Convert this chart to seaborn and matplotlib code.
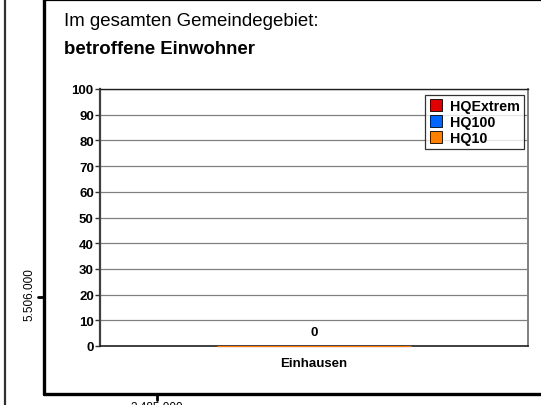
import matplotlib
matplotlib.use("Agg")
import matplotlib.pyplot as plt
from matplotlib.lines import Line2D
import seaborn as sns
import pandas as pd

categories = ["Einhausen"]
series = ["HQExtrem", "HQ100", "HQ10"]
hq_extrem = [0]
hq100 = [0]
hq10 = [0]
colors = ["#E00000", "#0066FF", "#FF8000"]
y_ticks = [0, 10, 20, 30, 40, 50, 60, 70, 80, 90, 100]

sns.set_theme(style="white")
plt.rcParams["font.family"] = ["Liberation Sans", "DejaVu Sans"]
plt.rcParams["text.color"] = "black"
plt.rcParams["xtick.color"] = "black"
plt.rcParams["ytick.color"] = "black"
plt.rcParams["axes.labelcolor"] = "black"

W, H = 541, 406
fig = plt.figure(figsize=(W / 100, H / 100), dpi=100)
fig.patch.set_facecolor("white")

def fx(x):
    return x / W

def fy(y):
    return 1 - y / H

# outer map frame
fig.add_artist(Line2D([fx(5), fx(5)], [0, 1], color="#303030", lw=1.6))
fig.add_artist(Line2D([fx(43.5), fx(43.5)], [fy(0), fy(395)], color="black", lw=2.4))
fig.add_artist(Line2D([fx(43.5), 1], [fy(0.8), fy(0.8)], color="black", lw=1.6))
fig.add_artist(Line2D([fx(43.5), 1], [fy(395), fy(395)], color="black", lw=2.4))
fig.add_artist(Line2D([fx(38), fx(43.5)], [fy(298), fy(298)], color="black", lw=2))
fig.add_artist(Line2D([fx(157), fx(157)], [fy(395), fy(401)], color="black", lw=2))
fig.text(fx(29.5), fy(295), "5.506.000", rotation=90, ha="center", va="center", fontsize=8.5)
fig.text(fx(157), fy(402), "3.485.000", ha="center", va="top", fontsize=8.5)

fig.text(fx(64), fy(22), "Im gesamten Gemeindegebiet:", ha="left", va="center", fontsize=13.4)
fig.text(fx(64), fy(49), "betroffene Einwohner", ha="left", va="center", fontsize=13.4, fontweight="bold")

# chart
left, right, top, bottom = 100, 528, 90, 347
ax = fig.add_axes([fx(left), fy(bottom), (right - left) / W, (bottom - top) / H])

df = pd.DataFrame({
    "Gemeinde": categories * 3,
    "Szenario": [series[0]] * len(categories) + [series[1]] * len(categories) + [series[2]] * len(categories),
    "Einwohner": hq_extrem + hq100 + hq10,
})

sns.barplot(data=df, x="Gemeinde", y="Einwohner", hue="Szenario", hue_order=series,
            palette=colors, dodge=False, width=0.453, ax=ax, errorbar=None,
            linewidth=0.8, saturation=1)
for cont, c in zip(ax.containers, colors):
    for p in cont:
        p.set_edgecolor(c)
        p.set_zorder(3)
        p.set_clip_on(False)

ax.bar_label(ax.containers[-1], labels=[str(v) for v in hq10], padding=6,
             fontsize=9.5, fontweight="bold")

ax.set_xlim(-0.5, 0.5)
ax.set_ylim(0, 100)
ax.set_yticks(y_ticks)
ax.set_yticklabels([str(t) for t in y_ticks], fontsize=9.5, fontweight="bold")
ax.set_xticks([0])
ax.set_xticklabels(categories, fontsize=9.5, fontweight="bold")
ax.tick_params(axis="y", length=3.5, width=1, color="#333333", pad=1, left=True)
ax.tick_params(axis="x", length=0, pad=8)
ax.set_xlabel("")
ax.set_ylabel("")
ax.yaxis.grid(True, color="#808080", lw=0.9)
ax.set_axisbelow(True)
ax.spines["left"].set_color("#404040")
ax.spines["left"].set_linewidth(1.6)
ax.spines["bottom"].set_color("#202020")
ax.spines["bottom"].set_linewidth(1.2)
ax.spines["top"].set_color("#202020")
ax.spines["top"].set_linewidth(1.0)
ax.spines["right"].set_color("#808080")
ax.spines["right"].set_linewidth(1.4)

leg = ax.legend(loc="upper right", bbox_to_anchor=(0.99, 0.977), frameon=True, fancybox=False,
                prop={"size": 10.3, "weight": "bold"}, handlelength=0.9, handleheight=0.9,
                handletextpad=0.5, labelspacing=0.12, borderpad=0.3, borderaxespad=0.0)
leg.get_frame().set_edgecolor("black")
leg.get_frame().set_linewidth(0.9)
for h in leg.legend_handles:
    h.set_edgecolor("black")
    h.set_linewidth(0.6)
for t in leg.get_texts():
    t.set_color("black")

fig.savefig("out.png", dpi=100)
